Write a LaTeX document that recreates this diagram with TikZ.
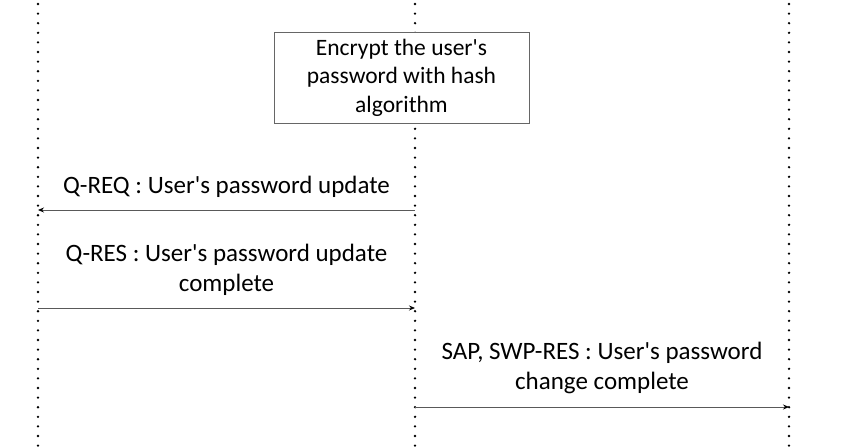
\documentclass[tikz,border=0pt]{standalone}
\usepackage{fontspec}
\setmainfont{Carlito}[Ligatures=TeXOff]
\usetikzlibrary{arrows.meta}
\begin{document}
\begin{tikzpicture}[
            x=1pt, y=-1pt,
            life line/.style={line width=2.6pt, dash pattern=on 0pt off 9.6pt, line cap=round},
            msg/.style={draw=black!65, line width=0.8pt, -{Stealth[length=6pt,width=5pt,black]}},
            msg label/.style={above=12.5pt, inner sep=0pt, align=center, font=\fontsize{25}{30}\selectfont},
            task box/.style={draw=black!60, fill=white, line width=0.8pt, minimum width=255pt,
                minimum height=91pt, align=center, font=\fontsize{23.5}{28.5}\selectfont}]
        \useasboundingbox (0,0) rectangle (852,447);
                % Define life lines
        \coordinate (A top) at (38,4);
        \coordinate (A bot) at (38,447);
        \coordinate (B top) at (415,4);
        \coordinate (B bot) at (415,447);
        \coordinate (C top) at (789,4);
        \coordinate (C bot) at (789,447);
        \draw[life line] (A top) -- (A bot);
        \draw[life line] (B top) -- (B bot);
        \draw[life line] (C top) -- (C bot);
                % Define task
        \node[task box] (hash) at (401.5,77.5) {Encrypt the user's\\password with hash\\algorithm};
                % Define messages
        \coordinate (req B) at (415,210);
        \coordinate (req A) at (38,210);
        \coordinate (res A) at (38,308);
        \coordinate (res B) at (415,308);
        \coordinate (sap B) at (415,407);
        \coordinate (sap C) at (789,407);
        \draw[msg] (req B) -- node[msg label] (req) {Q-REQ : User's password update} (req A);
        \draw[msg] (res A) -- node[msg label] (res) {Q-RES : User's password update\\complete} (res B);
        \draw[msg] (sap B) -- node[msg label] (sap) {SAP, SWP-RES : User's password\\change complete} (sap C);
\end{tikzpicture}
\end{document}
